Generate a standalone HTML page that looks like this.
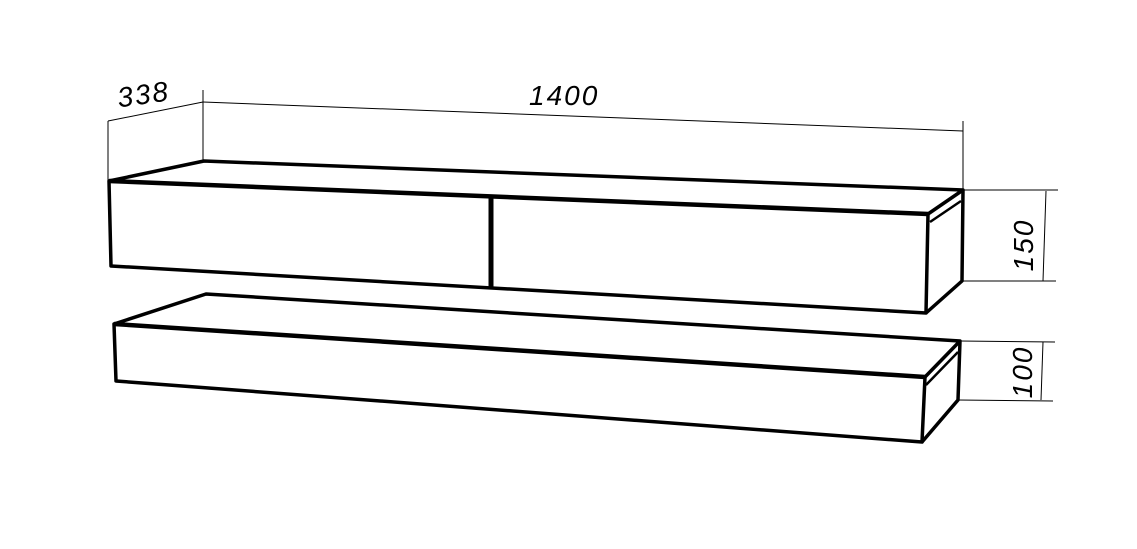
<!DOCTYPE html>
<html><head><style>body{margin:0;background:#fff}svg{display:block}</style></head><body>
<svg width="1137" height="549" viewBox="0 0 1137 549" xmlns="http://www.w3.org/2000/svg">
<g fill="none" stroke="#000" stroke-linejoin="round">
<g stroke-width="3.5">
<polygon points="109,181 928,214 926,313 111,266"/>
<line x1="109" y1="181" x2="928" y2="214" stroke-width="4.5"/>
<polyline points="109,181 204,161 963,190 962,281 926,313"/>
<line x1="928" y1="214" x2="963" y2="190"/>
<line x1="491" y1="197" x2="491" y2="287" stroke-width="5"/>
<line x1="930" y1="222" x2="961" y2="201" stroke-width="2.5"/>
</g>
<g stroke-width="3.5">
<polygon points="114,324 925,377 922,442 116,381"/>
<line x1="114" y1="324" x2="925" y2="377" stroke-width="4.5"/>
<polyline points="114,324 206,294 960,341 958,400 922,442"/>
<line x1="925" y1="377" x2="960" y2="341"/>
<line x1="926" y1="385" x2="958" y2="352" stroke-width="2.5"/>
</g>
<g stroke-width="1">
<line x1="108" y1="121" x2="108" y2="180"/>
<line x1="203" y1="90" x2="203" y2="160"/>
<line x1="108" y1="121" x2="203" y2="102"/>
<line x1="203" y1="102" x2="963" y2="131"/>
<line x1="963" y1="121" x2="963" y2="190"/>
<line x1="963" y1="190" x2="1058" y2="190"/>
<line x1="962" y1="281" x2="1056" y2="281"/>
<line x1="1046" y1="191" x2="1043" y2="281"/>
<line x1="960" y1="341" x2="1055" y2="342"/>
<line x1="958" y1="400" x2="1053" y2="401"/>
<line x1="1043" y1="342" x2="1041" y2="400"/>
</g>
</g>
<g font-family="Liberation Sans Narrow, Liberation Sans, sans-serif" font-size="28" font-style="italic" fill="#000" letter-spacing="2">
<text x="117" y="105" transform="rotate(-8 136 94)">338</text>
<text x="529" y="105">1400</text>
<text transform="translate(1033,245) rotate(-90)" text-anchor="middle">150</text>
<text transform="translate(1032,372) rotate(-90)" text-anchor="middle">100</text>
</g>
</svg>
</body></html>
